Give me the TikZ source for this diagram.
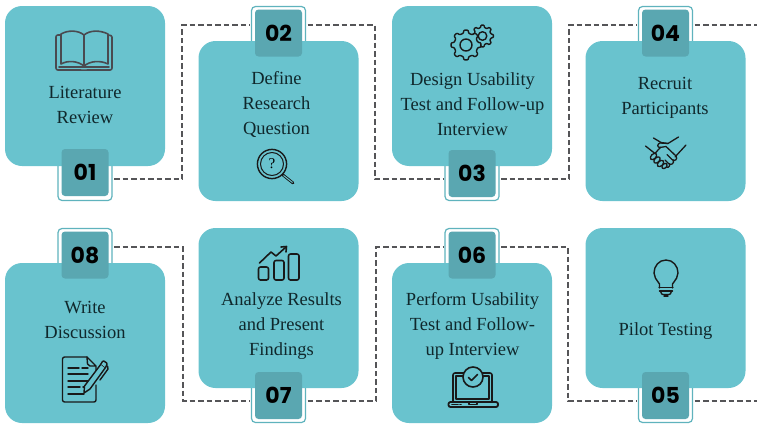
\documentclass[tikz,border=0pt]{standalone}
\usepackage{fontspec}
\setmainfont{Liberation Serif}
\newfontfamily\numfont{Poppins}
\definecolor{cardc}{HTML}{69C3CE}
\definecolor{badgec}{HTML}{5AA7B1}
\definecolor{ringc}{HTML}{5FB3BD}
\definecolor{dashc}{HTML}{555558}
\definecolor{inkc}{HTML}{10282C}
\definecolor{bookc}{HTML}{4A4A50}
\newcommand{\gearicon}[5]{%
  \draw[iconline,fill=cardc,rounded corners=0.7pt,shift={(#1,#2)}]
    ({-0.3*360/#5}:#4)
    \foreach \k in {1,...,#5} {
      -- ({(\k-1-0.17)*360/#5}:#3) -- ({(\k-1+0.17)*360/#5}:#3)
      -- ({(\k-1+0.30)*360/#5}:#4) -- ({(\k-0.30)*360/#5}:#4)
    } -- cycle;}
\tikzset{
  cardbox/.style={fill=cardc,rounded corners=17pt,minimum width=160pt,minimum height=160pt,inner sep=0pt},
  ringbox/.style={draw=ringc,line width=1.2pt,fill=white,rounded corners=4pt,minimum width=54pt,minimum height=54pt,inner sep=0pt,outer sep=2pt},
  numbox/.style={fill=badgec,rounded corners=3.5pt,minimum width=47pt,minimum height=47pt,inner sep=0pt,font=\numfont\bfseries\fontsize{22}{22}\selectfont,text=black},
  label/.style={align=center,inner sep=0pt,text=inkc,font=\fontsize{18.5}{25}\selectfont},
  conn/.style={draw=dashc,line width=1.8pt,dash pattern=on 5.5pt off 3pt},
  iconline/.style={draw=black!90,line width=1.4pt,line join=round,line cap=round},
  bookline/.style={draw=bookc,line width=1.6pt,line join=round,line cap=round}
}
\begin{document}
\begin{tikzpicture}[x=1pt,y=-1pt]
\useasboundingbox (0,0) rectangle (757,423);
% rings
\node[ringbox] (o1) at (85,173.5) {};
\node[ringbox] (o2) at (278.5,33.5) {};
\node[ringbox] (o3) at (472,173.5) {};
\node[ringbox] (o4) at (665.5,33.5) {};
\node[ringbox] (o8) at (85,255.5) {};
\node[ringbox] (o7) at (278.5,395.5) {};
\node[ringbox] (o6) at (472,255.5) {};
\node[ringbox] (o5) at (665.5,395.5) {};
% turning points and free ends
\coordinate (t12) at (182,100);
\coordinate (t23) at (375,100);
\coordinate (t34) at (569,100);
\coordinate (e4) at (757,25);
\coordinate (t87) at (183,320);
\coordinate (t76) at (376,320);
\coordinate (t65) at (568,320);
\coordinate (e5) at (757,401);
% connectors
\draw[conn] ([yshift=-5.5pt]o1.east) -| (t12) |- ([yshift=8.5pt]o2.west);
\draw[conn] ([yshift=8.5pt]o2.east) -| (t23) |- ([yshift=-5.5pt]o3.west);
\draw[conn] ([yshift=-5.5pt]o3.east) -| (t34) |- ([yshift=8.5pt]o4.west);
\draw[conn] ([yshift=8.5pt]o4.east) -- (e4);
\draw[conn] ([yshift=8.5pt]o8.east) -| (t87) |- ([yshift=-5.5pt]o7.west);
\draw[conn] ([yshift=-5.5pt]o7.east) -| (t76) |- ([yshift=8.5pt]o6.west);
\draw[conn] ([yshift=8.5pt]o6.east) -| (t65) |- ([yshift=-5.5pt]o5.west);
\draw[conn] ([yshift=-5.5pt]o5.east) -- (e5);
% cards
\node[cardbox] (c1) at (85,86) {};
\node[cardbox] (c2) at (278.5,121) {};
\node[cardbox] (c3) at (472,86) {};
\node[cardbox] (c4) at (665.5,121) {};
\node[cardbox] (c8) at (85,343) {};
\node[cardbox] (c7) at (278.5,308) {};
\node[cardbox] (c6) at (472,343) {};
\node[cardbox] (c5) at (665.5,308) {};
% numbers
\node[numbox] (n1) at (85,172.5) {01};
\node[numbox] (n2) at (278.5,33) {02};
\node[numbox] (n3) at (472,173.5) {03};
\node[numbox] (n4) at (665.5,33) {04};
\node[numbox] (n8) at (85,255) {08};
\node[numbox] (n7) at (278.5,395.5) {07};
\node[numbox] (n6) at (472,255) {06};
\node[numbox] (n5) at (665.5,395.5) {05};
% labels
\node[label] (l1) at (85,104.5) {Literature\\Review};
\node[label] (l2) at (276.5,104.5) {Define\\Research\\Question};
\node[label] (l3) at (472.5,104.5) {Design Usability\\Test and Follow-up\\Interview};
\node[label] (l4) at (665,97.5) {Recruit\\Participants};
\node[label] (l8) at (85,319.5) {Write\\Discussion};
\node[label] (l7) at (281.5,326.5) {Analyze Results\\and Present\\Findings};
\node[label] (l6) at (472.5,325.5) {Perform Usability\\Test and Follow-\\up Interview};
\node[label] (l5) at (665.5,331.5) {Pilot Testing};
% book
\draw[bookline,line join=round]
  (61,34) .. controls (68,30) and (78,30) .. (84,35) .. controls (90,30) and (100,30) .. (108,34)
  -- (108,64) .. controls (100,60) and (90,61) .. (84,66) .. controls (78,61) and (68,60) .. (61,64) -- cycle
  (84,35) -- (84,66);
\draw[bookline] (61,35) -- (58,35) .. controls (56.5,35) and (56,36) .. (56,37) -- (56,68) .. controls (56,69.5) and (57,70) .. (58,70)
  -- (80,70) .. controls (83,70) and (85,70.5) .. (88,70) -- (110,70) .. controls (111.5,70) and (112,69) .. (112,68) -- (112,37)
  .. controls (112,36) and (111,35) .. (108,35);
\draw[bookline] (59,67) -- (109,67);
% magnifier
\draw[iconline] (272,164) circle [radius=14.6];
\draw[iconline,line width=1pt] (272,164) circle [radius=11.5];
\draw[iconline,line width=2.8pt] (283,175) -- (293,183);
\draw[draw=cardc,line width=1pt] (283.5,175.5) -- (292.5,182.5);
\node[inner sep=0pt,font=\fontsize{15}{15}\selectfont,text=black] (qm) at (272,164) {?};
% gears
\gearicon{482.5}{36}{11}{8.6}{8}
\draw[iconline] (482.5,36) circle [radius=4.3];
\gearicon{466}{45}{15}{12}{8}
\draw[iconline] (466,45) circle [radius=6];
% handshake
\begin{scope}[iconline,line width=1.3pt]
  \draw (645.5,146) -- (655,153.5);
  \draw (686,145) -- (675,157);
  \draw (653.5,138) -- (661,142.5) -- (668,143.5) -- (678.5,137);
  \draw (668,143.5) -- (660,143) .. controls (657,144) and (657,147.5) .. (660,147.5) -- (666,146.5) -- (676,156) .. controls (678,159) and (675,162) .. (672,159.5) -- (667,154.5);
  \draw (655,153.5) -- (658,150) -- (661,147);
  \draw (673,160) .. controls (675,163) and (671,166) .. (668.5,163.5) -- (665,160);
  \draw (669.5,164) .. controls (670.5,167) and (667,168.5) .. (665,167);
  \foreach \px/\py in {653.5/156.5,657/160,660.5/163.5} {
    \draw[rotate around={45:(\px,\py)},fill=cardc] (\px,\py) ellipse [x radius=3.8, y radius=2.4];
  }
  \draw[fill=cardc,rotate around={45:(664.5,166)}] (664.5,166) ellipse [x radius=3, y radius=2.1];
\end{scope}
% document
\begin{scope}[iconline]
  \draw[rounded corners=2pt] (87,357) -- (62.5,357) -- (62.5,402) -- (96,402) -- (96,385);
  \draw (96,376) -- (96,366) -- (87,357) -- (87.5,364) -- (90,366) -- (96,366);
  \draw (68,368) -- (79,368) (82,368) -- (88,368);
  \draw (68,374) -- (88,374);
  \draw (68,381) -- (88,381);
  \draw (68,387) -- (80,387) (83,387) -- (85,387);
  \draw (68,394) -- (84,394);
  \draw[fill=cardc] (84,393) -- (84.5,386) -- (101,364) -- (105.5,367.5) -- (90,389) -- cycle;
  \draw[fill=cardc,rounded corners=1pt] (101,364) -- (103,360.5) -- (107.5,363.5) -- (105.5,367.5);
  \draw (107.5,366) -- (108,369) -- (100,380);
\end{scope}
% chart
\begin{scope}[iconline,line width=1.6pt]
  \draw[rounded corners=2pt] (258.5,267) rectangle (268.5,280);
  \draw[rounded corners=2pt] (274,260.5) rectangle (284,280);
  \draw[rounded corners=2pt] (288.5,254) rectangle (299,280);
  \draw (259.5,263) -- (271,252) -- (276,256) -- (286,247);
  \draw (281,247) -- (286.5,246.5) -- (286,252);
\end{scope}
% laptop
\begin{scope}[iconline,line width=1.6pt]
  \draw[rounded corners=2pt] (453,402) -- (453,373) -- (492,373) -- (492,402);
  \draw (456,399) -- (456,376) -- (489,376) -- (489,399) -- cycle;
  \draw[fill=cardc] (473,377) circle [radius=10];
  \draw (468.5,377.5) -- (471.5,380.5) -- (477.5,374.5);
  \draw[rounded corners=2pt,line width=1.8pt] (448.5,402) rectangle (498,407);
  \draw (469,402) -- (469,404.5) -- (477,404.5) -- (477,402);
  \draw (452,404.5) -- (458,404.5) (460,404.5) -- (461,404.5);
\end{scope}
% bulb
\begin{scope}[iconline]
  \draw (659.5,288) -- (659.5,284) .. controls (656,279) and (654,277) .. (654,273) .. controls (654,266) and (659,260) .. (666,260) .. controls (673,260) and (678,266) .. (678,273) .. controls (678,277) and (676,279) .. (672.5,284) -- (672.5,288);
  \draw (659,287.5) -- (673,287.5);
  \draw (659.5,291) -- (672.5,291);
  \draw (660.5,291) .. controls (661,294) and (662,294.5) .. (663,294.5) -- (669,294.5) .. controls (670,294.5) and (671,294) .. (671.5,291);
  \draw (664,296) -- (668,296);
\end{scope}
\end{tikzpicture}
\end{document}
